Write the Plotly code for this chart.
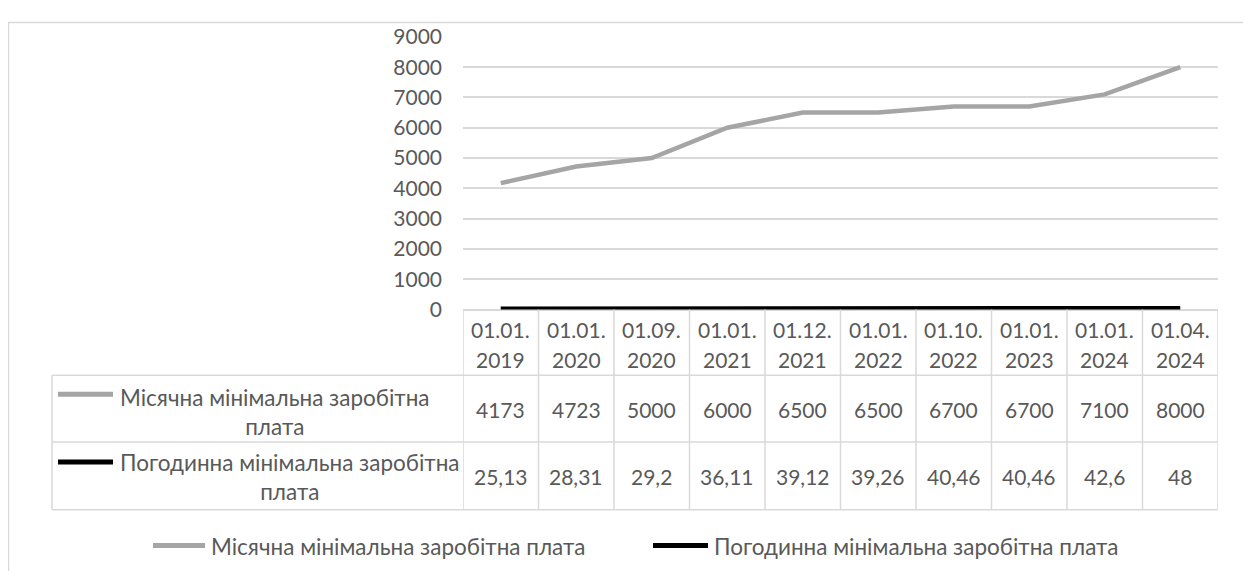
import plotly.graph_objects as go

# page body keeps its default 8px margin, so the figure is 16px smaller than the window
OFF = 8
W, H = 1251 - 2 * OFF, 579 - 2 * OFF
# the page photo comes out a bit squeezed vertically: shot_y ~ 13.4 + 0.96 * page_y
SHOT_A, SHOT_S = 13.4, 0.96

dates = ['01.01.2019', '01.01.2020', '01.09.2020', '01.01.2021', '01.12.2021',
         '01.01.2022', '01.10.2022', '01.01.2023', '01.01.2024', '01.04.2024']
monthly = [4173, 4723, 5000, 6000, 6500, 6500, 6700, 6700, 7100, 8000]
hourly = [25.13, 28.31, 29.2, 36.11, 39.12, 39.26, 40.46, 40.46, 42.6, 48]
name_monthly = 'Місячна мінімальна заробітна плата'
name_hourly = 'Погодинна мінімальна заробітна плата'

GRAY = '#A5A5A5'
BLACK = '#000000'
TXT = '#595959'
GRID = '#D9D9D9'
FONT = 'Lato, sans-serif'
FS = 21      # numbers
FS_T = 22.5  # ukrainian labels


def px(x):
    return (x - OFF) / W


def py(y):
    page_y = (y - SHOT_A) / SHOT_S
    return min(1 - (page_y - OFF) / H, 0.999)


def fmt(v):
    return f'{v:g}'.replace('.', ',')


def label(x, y, text, xref='paper', xanchor='center', size=FS):
    return dict(x=x, xref=xref, y=py(y), yref='paper', text=text, showarrow=False,
                xanchor=xanchor, yanchor='middle', align='center',
                font=dict(size=size, color=TXT, family=FONT))


cats = list(range(len(dates)))

fig = go.Figure()
fig.add_trace(go.Scatter(x=cats, y=monthly, mode='lines', name=name_monthly,
                         line=dict(color=GRAY, width=4.5)))
fig.add_trace(go.Scatter(x=cats, y=hourly, mode='lines', name=name_hourly,
                         line=dict(color=BLACK, width=4.5)))

shapes = []
annots = []

# outer chart border
shapes.append(dict(type='rect', xref='paper', yref='paper', x0=px(8.5), x1=px(1248),
                   y0=-0.2, y1=py(7), line=dict(color=GRID, width=1.5)))

# data table grid
top, hb, r1b, r2b = 310, 376, 443, 511
left = 52
for yy in (hb, r1b, r2b):
    shapes.append(dict(type='line', xref='paper', yref='paper', x0=px(left), x1=px(1218),
                       y0=py(yy), y1=py(yy), line=dict(color=GRID, width=1.5)))
shapes.append(dict(type='line', xref='paper', yref='paper', x0=px(left), x1=px(left),
                   y0=py(hb), y1=py(r2b), line=dict(color=GRID, width=1.5)))
for i in range(len(dates) + 1):
    shapes.append(dict(type='line', xref='x', yref='paper', x0=i - 0.5, x1=i - 0.5,
                       y0=py(top), y1=py(r2b), line=dict(color=GRID, width=1.5)))

for i, d in enumerate(dates):
    annots.append(label(i, 330, d[:6], xref='x'))
    annots.append(label(i, 360, d[6:], xref='x'))
    annots.append(label(i, 410, fmt(monthly[i]), xref='x'))
    annots.append(label(i, 478, fmt(hourly[i]), xref='x'))

# row labels with legend keys
for name, color, ky, ty in [(name_monthly, GRAY, 395, 413), (name_hourly, BLACK, 463, 478)]:
    shapes.append(dict(type='line', xref='paper', yref='paper', x0=px(58), x1=px(113),
                       y0=py(ky), y1=py(ky), line=dict(color=color, width=5)))
    first, last = name.rsplit(' ', 1)
    annots.append(label(px(118), ty, first + '<br>' + last, xanchor='left', size=FS_T))

# bottom legend
for name, color, k0, k1 in [(name_monthly, GRAY, 153, 205), (name_hourly, BLACK, 653, 708)]:
    shapes.append(dict(type='line', xref='paper', yref='paper', x0=px(k0), x1=px(k1),
                       y0=py(547), y1=py(547), line=dict(color=color, width=5)))
    annots.append(label(px(k1 + 4), 548, name, xanchor='left', size=FS_T))

fig.update_layout(
    width=W, height=H,
    margin=dict(l=0, r=0, t=0, b=0),
    paper_bgcolor='white', plot_bgcolor='white',
    showlegend=False,
    font=dict(family=FONT, size=FS, color=TXT),
    xaxis=dict(domain=[px(463), px(1218)], range=[-0.5, len(dates) - 0.5],
               showticklabels=False, showgrid=False, zeroline=False, fixedrange=True),
    yaxis=dict(domain=[py(310), py(36)], range=[0, 9000], dtick=1000,
               gridcolor=GRID, gridwidth=1.5, zeroline=True, zerolinecolor=GRID, zerolinewidth=1.5,
               ticklabelstandoff=20, tickfont=dict(size=FS, color=TXT, family=FONT)),
    shapes=shapes,
    annotations=annots,
)

fig.write_html('out.html')
